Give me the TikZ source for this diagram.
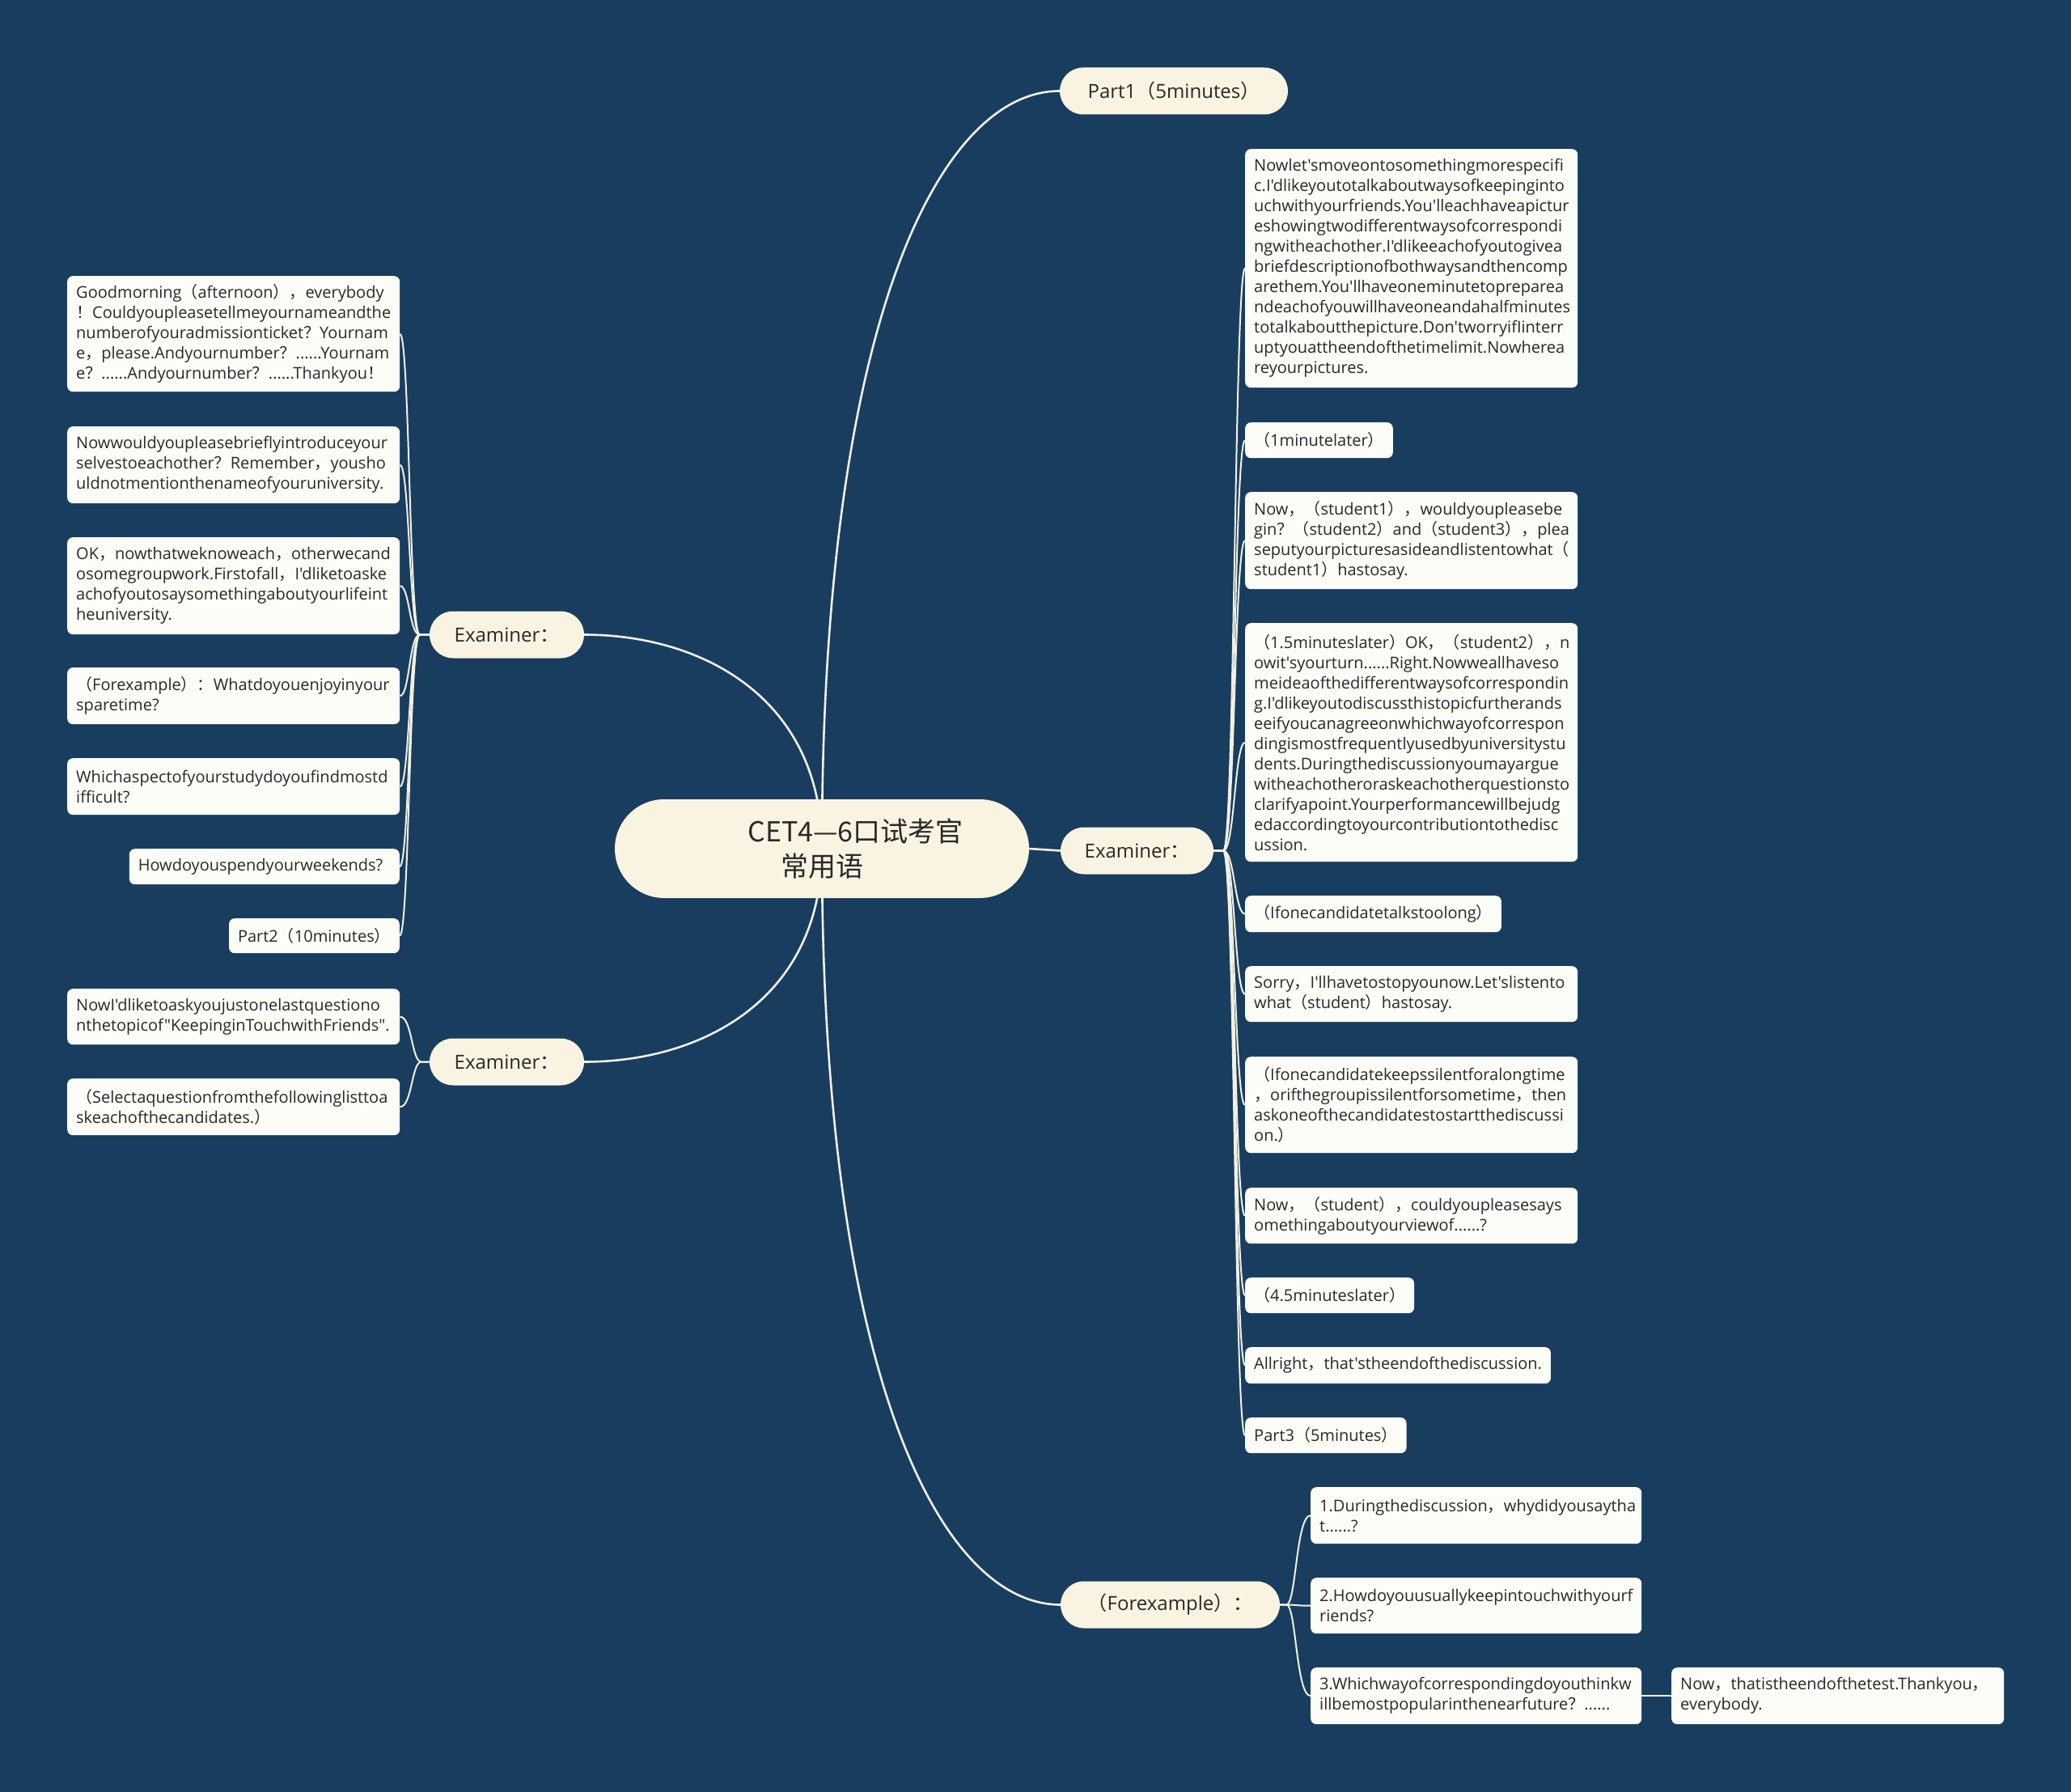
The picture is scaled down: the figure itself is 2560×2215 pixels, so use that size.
\documentclass[tikz,border=0pt]{standalone}
\usepackage{fontspec}
\setmainfont{Open Sans}[Ligatures=TeXOff]
\newfontfamily\cjk{Noto Sans CJK SC}
\newcommand\fwL{{\cjk （}}
\newcommand\fwR{{\cjk ）}}
\newcommand\fwC{{\cjk ，}}
\newcommand\fwD{{\cjk ：}}
\newcommand\fwE{{\cjk ！}}
\newcommand\fwQ{{\cjk ？}}
\definecolor{bgc}{RGB}{25,61,94}
\definecolor{nodec}{RGB}{249,244,225}
\definecolor{leafc}{RGB}{253,253,247}
\definecolor{txtc}{RGB}{40,40,40}
\definecolor{linec}{RGB}{242,240,228}
\pgfdeclarelayer{back}
\pgfdeclarelayer{lines}
\pgfsetlayers{back,lines,main}
\tikzset{
  leaf/.style={fill=leafc, rounded corners=7pt, text=txtc, font=\fontsize{20}{25}\selectfont, inner xsep=11pt, inner ysep=3pt, align=left, anchor=north west},
  wleaf/.style={leaf, text width=389pt},
  qleaf/.style={leaf, text width=387pt},
  lone/.style={fill=nodec, text=txtc, font=\fontsize{24}{29}\selectfont, minimum height=58pt, rounded corners=29pt, inner sep=0pt},
  rootst/.style={fill=nodec, text=txtc, font=\cjk\fontsize{34}{43}\selectfont, minimum width=512pt, minimum height=122pt, rounded corners=61pt, inner sep=0pt, align=left},
  br/.style={draw=linec, line width=2pt},
  mainln/.style={draw=linec, line width=2.6pt},
}
\begin{document}
\begin{tikzpicture}[x=1pt,y=-1pt]
\begin{pgfonlayer}{back}
\fill[bgc] (0,0) rectangle (2560,2215);
\end{pgfonlayer}
\useasboundingbox (0,0) rectangle (2560,2215);

% root and level-one nodes
\node[rootst] (root) at (1016,1049) {\hspace*{83pt}CET4—6口试考官\\\hspace*{124pt}常用语};
\node[lone, minimum width=282pt] (p1) at (1451,112.5) {Part1\fwL{}5minutes\fwR};
\node[lone, minimum width=191pt] (ex1) at (626.5,784.5) {Examiner\fwD};
\node[lone, minimum width=191pt] (ex2) at (626.5,1312.5) {Examiner\fwD};
\node[lone, minimum width=189pt] (exr) at (1405.5,1051.5) {Examiner\fwD};
\node[lone, minimum width=271pt] (fx) at (1446.5,1983.5) {\fwL{}Forexample\fwR\fwD};

% left leaves
\node[wleaf, minimum height=143pt] (L1) at (83,341) {Goodmorning\fwL{}afternoon\fwR\fwC{}everybody\\\fwE{}Couldyoupleasetellmeyournameandthe\\numberofyouradmissionticket\fwQ{}Yournam\\e\fwC{}please.Andyournumber\fwQ{}......Yournam\\e\fwQ{}......Andyournumber\fwQ{}......Thankyou\fwE};
\node[wleaf, minimum height=95pt] (L2) at (83,527) {Nowwouldyoupleasebrieflyintroduceyour\\selvestoeachother\fwQ{}Remember\fwC{}yousho\\uldnotmentionthenameofyouruniversity.};
\node[wleaf, minimum height=120pt] (L3) at (83,664) {OK\fwC{}nowthatweknoweach\fwC{}otherwecand\\osomegroupwork.Firstofall\fwC{}I'dliketoaske\\achofyoutosaysomethingaboutyourlifeint\\heuniversity.};
\node[wleaf, minimum height=70pt] (L4) at (83,825) {\fwL{}Forexample\fwR\fwD{}Whatdoyouenjoyinyour\\sparetime?};
\node[wleaf, minimum height=70pt] (L5) at (83,937) {Whichaspectofyourstudydoyoufindmostd\\ifficult?};
\node[leaf, anchor=north east, text width=312pt, minimum height=44pt] (L6) at (494,1049) {Howdoyouspendyourweekends?};
\node[leaf, anchor=north east, minimum height=43pt] (L7) at (494,1135) {Part2\fwL{}10minutes\fwR};
\node[wleaf, minimum height=69pt] (L8) at (83,1222) {NowI'dliketoaskyoujustonelastquestiono\\nthetopicof"KeepinginTouchwithFriends".};
\node[wleaf, minimum height=70pt] (L9) at (83,1333) {\fwL{}Selectaquestionfromthefollowinglisttoa\\skeachofthecandidates.\fwR};

% right leaves
\node[wleaf, minimum height=295pt] (R1) at (1539,184) {Nowlet'smoveontosomethingmorespecifi\\c.I'dlikeyoutotalkaboutwaysofkeepinginto\\uchwithyourfriends.You'lleachhaveapictur\\eshowingtwodifferentwaysofcorrespondi\\ngwitheachother.I'dlikeeachofyoutogivea\\briefdescriptionofbothwaysandthencomp\\arethem.You'llhaveoneminutetopreparea\\ndeachofyouwillhaveoneandahalfminutes\\totalkaboutthepicture.Don'tworryifIinterr\\uptyouattheendofthetimelimit.Nowherea\\reyourpictures.};
\node[leaf, minimum height=44pt] (R2) at (1539,522) {\fwL{}1minutelater\fwR};
\node[wleaf, minimum height=120pt] (R3) at (1539,608) {Now\fwC\fwL{}student1\fwR\fwC{}wouldyoupleasebe\\gin\fwQ\fwL{}student2\fwR{}and\fwL{}student3\fwR\fwC{}plea\\seputyourpicturesasideandlistentowhat\fwL\\student1\fwR{}hastosay.};
\node[wleaf, minimum height=295pt] (R4) at (1539,770) {\fwL{}1.5minuteslater\fwR{}OK\fwC\fwL{}student2\fwR\fwC{}n\\owit'syourturn......Right.Nowweallhaveso\\meideaofthedifferentwaysofcorrespondin\\g.I'dlikeyoutodiscussthistopicfurtherands\\eeifyoucanagreeonwhichwayofcorrespon\\dingismostfrequentlyusedbyuniversitystu\\dents.Duringthediscussionyoumayargue\\witheachotheroraskeachotherquestionsto\\clarifyapoint.Yourperformancewillbejudg\\edaccordingtoyourcontributiontothedisc\\ussion.};
\node[leaf, minimum height=45pt] (R5) at (1539,1107) {\fwL{}Ifonecandidatetalkstoolong\fwR};
\node[wleaf, minimum height=69pt] (R6) at (1539,1194) {Sorry\fwC{}I'llhavetostopyounow.Let'slistento\\what\fwL{}student\fwR{}hastosay.};
\node[wleaf, minimum height=119pt] (R7) at (1539,1306) {\fwL{}Ifonecandidatekeepssilentforalongtime\\\fwC{}orifthegroupissilentforsometime\fwC{}then\\askoneofthecandidatestostartthediscussi\\on.\fwR};
\node[wleaf, minimum height=69pt] (R8) at (1539,1468) {Now\fwC\fwL{}student\fwR\fwC{}couldyoupleasesays\\omethingaboutyourviewof......?};
\node[leaf, minimum height=44pt] (R9) at (1539,1579) {\fwL{}4.5minuteslater\fwR};
\node[leaf, minimum height=45pt] (R10) at (1539,1665) {Allright\fwC{}that'stheendofthediscussion.};
\node[leaf, minimum height=44pt] (R11) at (1539,1752) {Part3\fwL{}5minutes\fwR};

% example questions
\node[qleaf, minimum height=70pt] (Q1) at (1620,1838) {1.Duringthediscussion\fwC{}whydidyousaytha\\t......?};
\node[qleaf, minimum height=69pt] (Q2) at (1620,1950) {2.Howdoyouusuallykeepintouchwithyourf\\riends?};
\node[qleaf, minimum height=70pt] (Q3) at (1620,2061) {3.Whichwayofcorrespondingdoyouthinkw\\illbemostpopularinthenearfuture\fwQ{}......};
\node[wleaf, minimum height=70pt] (fin) at (2066,2061) {Now\fwC{}thatistheendofthetest.Thankyou\fwC\\everybody.};

\begin{pgfonlayer}{lines}
\draw[mainln] (root.center) .. controls +(0,-655) and +(-147,0) .. (p1.west);
\draw[mainln] (root.center) .. controls +(0,-185) and +(147,0) .. (ex1.east);
\draw[mainln] (root.center) .. controls +(0,185) and +(147,0) .. (ex2.east);
\draw[mainln] (root.center) .. controls +(0,655) and +(-147,0) .. (fx.west);
\draw[mainln] (root.east) -- (exr.west);
\foreach \n in {L1,L2,L3,L4,L5,L6,L7}
  \draw[br] (ex1.west) -- ++(-12,0) .. controls +(-13,0) and +(12,0) .. (\n.east);
\foreach \n in {L8,L9}
  \draw[br] (ex2.west) -- ++(-10,0) .. controls +(-12,0) and +(15,0) .. (\n.east);
\foreach \n in {R1,R2,R3,R4,R5,R6,R7,R8,R9,R10,R11}
  \draw[br] (exr.east) -- ++(12,0) .. controls +(14,0) and +(-13,0) .. (\n.west);
\foreach \n in {Q1,Q2,Q3}
  \draw[br] (fx.east) -- ++(8,0) .. controls +(12,0) and +(-18,0) .. (\n.west);
\draw[br] (Q3.east) -- (fin.west);
\end{pgfonlayer}
\end{tikzpicture}
\end{document}
